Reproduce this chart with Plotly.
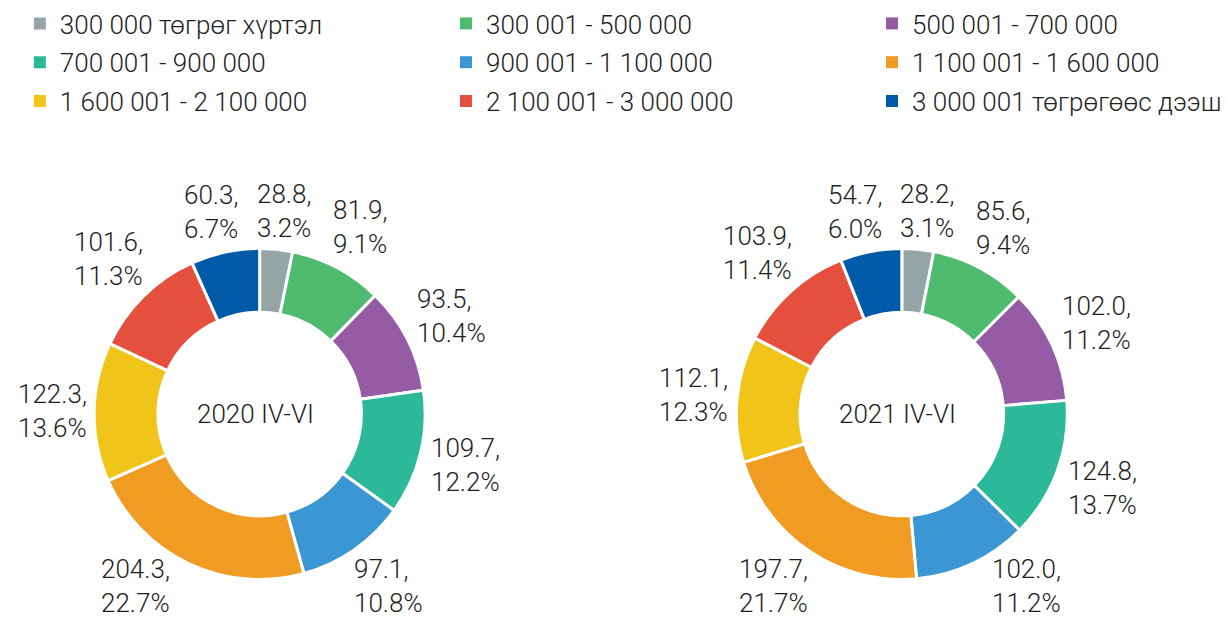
import math
import plotly.graph_objects as go

categories = ["300 000 төгрөг хүртэл", "300 001 - 500 000", "500 001 - 700 000",
              "700 001 - 900 000", "900 001 - 1 100 000", "1 100 001 - 1 600 000",
              "1 600 001 - 2 100 000", "2 100 001 - 3 000 000", "3 000 001 төгрөгөөс дээш"]
values_2020 = [28.8, 81.9, 93.5, 109.7, 97.1, 204.3, 122.3, 101.6, 60.3]
pct_2020 = [3.2, 9.1, 10.4, 12.2, 10.8, 22.7, 13.6, 11.3, 6.7]
values_2021 = [28.2, 85.6, 102.0, 124.8, 102.0, 197.7, 112.1, 103.9, 54.7]
pct_2021 = [3.1, 9.4, 11.2, 13.7, 11.2, 21.7, 12.3, 11.4, 6.0]
titles = ["2020 IV-VI", "2021 IV-VI"]
colors = ["#95a5a6", "#4fbb6f", "#955ba5", "#2bb99a", "#3b97d3",
          "#f09b22", "#f1c419", "#e54f3e", "#005aa8"]

W, H = 1227, 618
FONT = "Roboto"
TXT = "#1e1e1e"
FS = 26

# pie geometry in pixels (center x, center y, radius)
pies = [(262, 414, 167), (910, 414, 167)]


def domain_of(cx, cy, r):
    return dict(x=[(cx - r) / W, (cx + r) / W], y=[1 - (cy + r) / H, 1 - (cy - r) / H])


fig = go.Figure()
for (vals, pcts, title), (cx, cy, r) in zip(
        [(values_2020, pct_2020, titles[0]), (values_2021, pct_2021, titles[1])], pies):
    fig.add_trace(go.Pie(
        labels=categories, values=vals, textinfo="none",
        hole=0.615, sort=False, direction="clockwise", rotation=0,
        marker=dict(colors=colors, line=dict(color="white", width=3)),
        domain=domain_of(cx, cy, r), showlegend=False, hoverinfo="label+value+percent",
    ))
    # outside labels: box placed just clear of the ring at each slice's mid angle
    total = sum(vals)
    cum = 0.0
    rho = r + 8
    ymax = H - 32
    labels = []
    for v, p in zip(vals, pcts):
        ang = (cum + v / 2) / total * 2 * math.pi
        cum += v
        s, c = math.sin(ang), math.cos(ang)
        l1, l2 = f"{v:.1f},", f"{p:.1f}%"
        bw = 11.3 * max(len(l1), len(l2) + 1)
        bh = 52
        dist = rho + bw / 2 * abs(s) + bh / 2 * abs(c)
        px = cx + dist * s
        py = cy - dist * c
        if py > ymax:
            dy = ymax - cy
            dx = math.sqrt(max(dist ** 2 - dy ** 2, 0))
            px = cx + math.copysign(dx, s)
            py = ymax
        labels.append([px, py, bw, f"{l1}<br>{l2}"])
    # keep a minimum horizontal gap between neighbouring labels at the same height
    n = len(labels)
    for i in range(n):
        a, b = labels[i - 1], labels[i]
        if abs(a[1] - b[1]) < 40:
            left, right = (a, b) if a[0] < b[0] else (b, a)
            gap = (right[0] - right[2] / 2) - (left[0] + left[2] / 2)
            if gap < 20:
                shift = (20 - gap) / 2
                left[0] -= shift
                right[0] += shift
    for px, py, bw, txt in labels:
        fig.add_annotation(text=txt, x=px / W, y=1 - py / H, xref="paper", yref="paper",
                           xanchor="center", yanchor="middle", align="left", showarrow=False,
                           font=dict(family=FONT, size=FS, color=TXT, weight=300))
    fig.add_annotation(text=title, x=(cx - 4) / W, y=1 - cy / H, xref="paper", yref="paper",
                       xanchor="center", yanchor="middle",
                       showarrow=False, font=dict(family=FONT, size=FS, color=TXT, weight=300))

# legend entries (three columns)
legend_names = ["legend", "legend2", "legend3"]
for i, (cat, col) in enumerate(zip(categories, colors)):
    fig.add_trace(go.Scatter(
        x=[None], y=[None], mode="markers", name=cat,
        marker=dict(symbol="square", size=12, color=col),
        legend=legend_names[i % 3], legendgroup=cat, showlegend=True,
    ))

leg_common = dict(orientation="v", y=1.0, yanchor="top", xanchor="left",
                  font=dict(family=FONT, size=FS, color=TXT, weight=300),
                  itemsizing="trace", tracegroupgap=2, bgcolor="rgba(0,0,0,0)")
fig.update_layout(
    width=W, height=H,
    margin=dict(l=0, r=0, t=0, b=0),
    paper_bgcolor="white", plot_bgcolor="white",
    font=dict(family=FONT, color=TXT),
    legend=dict(x=20 / W, **leg_common),
    legend2=dict(x=450 / W, **leg_common),
    legend3=dict(x=880 / W, **leg_common),
    xaxis=dict(visible=False), yaxis=dict(visible=False),
)
fig.write_html("out.html", config={"displayModeBar": False},
               post_script="document.body.style.margin='0px';")
